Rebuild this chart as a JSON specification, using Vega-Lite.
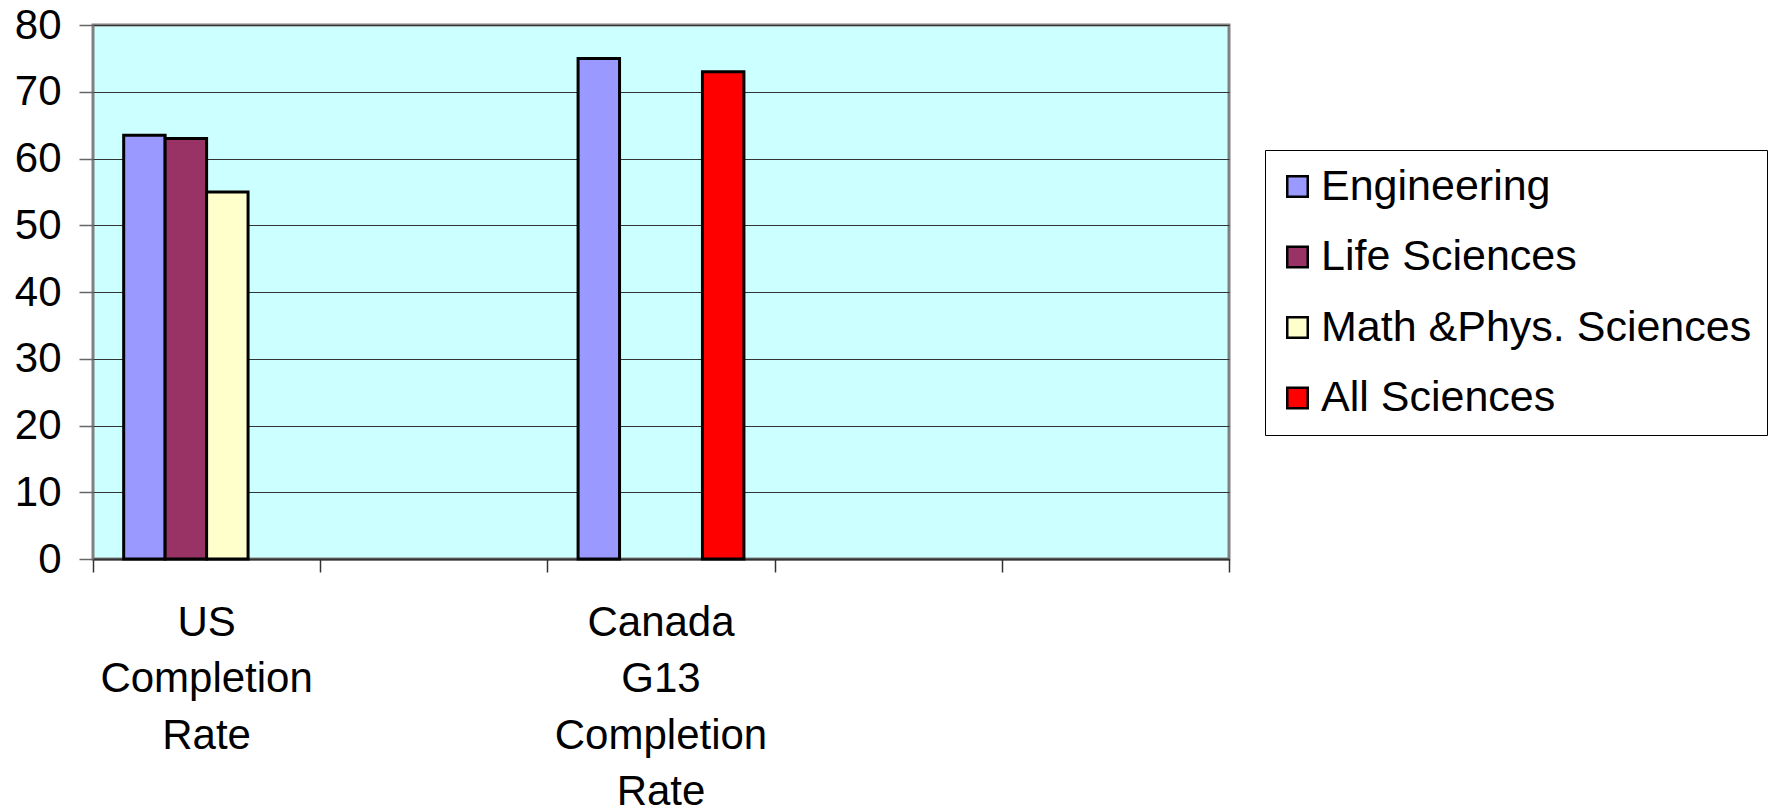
{
  "$schema": "https://vega.github.io/schema/vega-lite/v6.json",
  "autosize": "none",
  "padding": {"left": 93, "top": 25, "right": 558, "bottom": 252},
  "width": 1136,
  "height": 534,
  "background": "white",
  "config": {
    "font": "Liberation Sans",
    "view": {"fill": "#CCFFFF", "stroke": "#808080", "strokeWidth": 3}
  },
  "data": {
    "values": [
      {"country": "US|Completion|Rate", "discipline": "Engineering", "rate": 63.5},
      {"country": "US|Completion|Rate", "discipline": "Life Sciences", "rate": 63},
      {"country": "US|Completion|Rate", "discipline": "Math &Phys. Sciences", "rate": 55},
      {"country": "Canada|G13|Completion|Rate", "discipline": "Engineering", "rate": 75},
      {"country": "Canada|G13|Completion|Rate", "discipline": "All Sciences", "rate": 73}
    ]
  },
  "encoding": {
    "xOffset": {
      "field": "discipline",
      "type": "nominal",
      "scale": {
        "domain": ["Engineering", "Life Sciences", "Math &Phys. Sciences", "All Sciences"],
        "paddingInner": 0,
        "paddingOuter": 0.74
      }
    },
    "y": {
      "field": "rate",
      "type": "quantitative",
      "scale": {"domain": [0, 80], "nice": false},
      "axis": {
        "title": null,
        "values": [0, 10, 20, 30, 40, 50, 60, 70, 80],
        "labelFontSize": 42,
        "labelColor": "black",
        "labelPadding": 18,
        "tickSize": 14,
        "tickColor": "#666666",
        "tickWidth": 1.5,
        "domain": false,
        "grid": true,
        "gridColor": "#333333",
        "gridWidth": 1
      }
    }
  },
  "resolve": {"axis": {"x": "independent"}},
  "layer": [
    {
      "mark": {"type": "bar", "opacity": 0},
      "encoding": {
        "x": {
          "field": "country",
          "type": "nominal",
          "sort": null,
          "scale": {
            "domain": ["US|Completion|Rate", "empty1", "Canada|G13|Completion|Rate", "empty2", "empty3"],
            "paddingInner": 0,
            "paddingOuter": 0
          },
          "axis": {
            "title": null,
            "orient": "bottom",
            "labels": false,
            "tickBand": "extent",
            "tickSize": 13,
            "tickColor": "#333333",
            "tickWidth": 1.5,
            "domainColor": "#333333",
            "domainWidth": 2,
            "grid": false
          }
        }
      }
    },
    {
      "mark": {"type": "bar", "stroke": "black", "strokeWidth": 3},
      "encoding": {
        "x": {
          "field": "country",
          "type": "nominal",
          "sort": null,
          "axis": {
            "title": null,
            "orient": "bottom",
            "labelAngle": 0,
            "labelExpr": "indexof(datum.value, '|') >= 0 ? split(datum.value, '|') : ''",
            "labelFontSize": 42,
            "labelColor": "black",
            "labelLineHeight": 56.5,
            "labelPadding": 43,
            "labelLimit": 400,
            "ticks": false,
            "domain": false,
            "grid": false
          }
        },
        "color": {
          "field": "discipline",
          "type": "nominal",
          "scale": {
            "domain": ["Engineering", "Life Sciences", "Math &Phys. Sciences", "All Sciences"],
            "range": ["#9999FF", "#993366", "#FFFFCC", "#FF0000"]
          },
          "legend": {
            "title": null,
            "orient": "none",
            "legendX": 1172,
            "legendY": 125,
            "padding": 15,
            "fillColor": "white",
            "strokeColor": "black",
            "symbolType": "square",
            "symbolSize": 420,
            "symbolOffset": -4,
            "symbolStrokeColor": "black",
            "symbolStrokeWidth": 2.5,
            "labelFontSize": 43,
            "labelColor": "black",
            "labelOffset": 2,
            "labelLimit": 600,
            "rowPadding": 26.5
          }
        }
      }
    }
  ]
}
